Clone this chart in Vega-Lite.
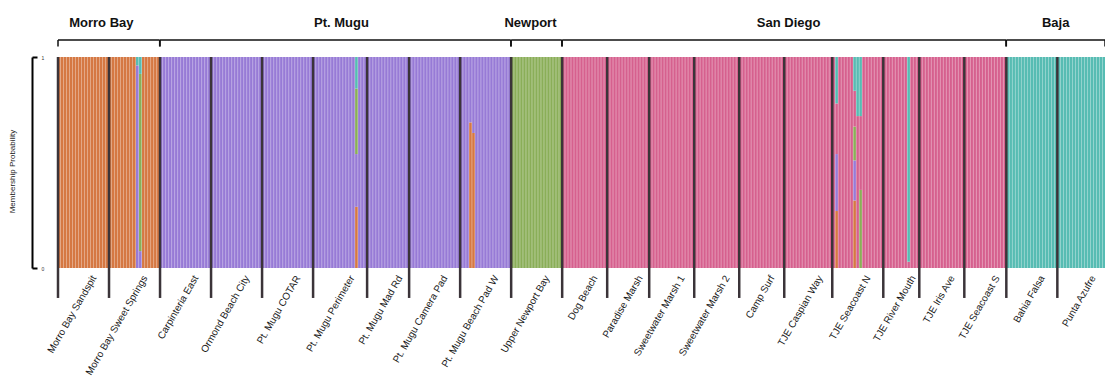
{
"$schema":"https://vega.github.io/schema/vega-lite/v6.json",
"width":1047,"height":211,
"autosize":{"type":"none"},
"padding":{"left":58,"top":57,"right":0,"bottom":115},
"background":"white",
"config":{"view":{"stroke":null}},
"datasets":{
"q":[
{"i":1,"k":1,"q":1},{"i":2,"k":1,"q":1},{"i":3,"k":1,"q":1},{"i":4,"k":1,"q":1},{"i":5,"k":1,"q":1},{"i":6,"k":1,"q":1},{"i":7,"k":1,"q":1},{"i":8,"k":1,"q":1},{"i":9,"k":1,"q":1},{"i":10,"k":1,"q":1},
{"i":11,"k":1,"q":1},{"i":12,"k":1,"q":1},{"i":13,"k":1,"q":1},{"i":14,"k":1,"q":1},{"i":15,"k":1,"q":1},{"i":16,"k":1,"q":1},{"i":17,"k":1,"q":1},{"i":18,"k":1,"q":1},{"i":19,"k":1,"q":1},{"i":20,"k":1,"q":1},
{"i":21,"k":1,"q":1},{"i":22,"k":1,"q":1},{"i":23,"k":1,"q":1},{"i":24,"k":1,"q":1},{"i":25,"k":1,"q":1},{"i":26,"k":1,"q":1},
{"i":27,"k":2,"q":0.96},{"i":27,"k":5,"q":0.04},
{"i":28,"k":2,"q":0.08},{"i":28,"k":3,"q":0.84},{"i":28,"k":5,"q":0.08},
{"i":29,"k":1,"q":1},{"i":30,"k":1,"q":1},{"i":31,"k":1,"q":1},{"i":32,"k":1,"q":1},{"i":33,"k":1,"q":1},{"i":34,"k":1,"q":1},
{"i":35,"k":2,"q":1},{"i":36,"k":2,"q":1},{"i":37,"k":2,"q":1},{"i":38,"k":2,"q":1},{"i":39,"k":2,"q":1},{"i":40,"k":2,"q":1},
{"i":41,"k":2,"q":1},{"i":42,"k":2,"q":1},{"i":43,"k":2,"q":1},{"i":44,"k":2,"q":1},{"i":45,"k":2,"q":1},{"i":46,"k":2,"q":1},{"i":47,"k":2,"q":1},{"i":48,"k":2,"q":1},{"i":49,"k":2,"q":1},{"i":50,"k":2,"q":1},
{"i":51,"k":2,"q":1},{"i":52,"k":2,"q":1},{"i":53,"k":2,"q":1},{"i":54,"k":2,"q":1},{"i":55,"k":2,"q":1},{"i":56,"k":2,"q":1},{"i":57,"k":2,"q":1},{"i":58,"k":2,"q":1},{"i":59,"k":2,"q":1},{"i":60,"k":2,"q":1},
{"i":61,"k":2,"q":1},{"i":62,"k":2,"q":1},{"i":63,"k":2,"q":1},{"i":64,"k":2,"q":1},{"i":65,"k":2,"q":1},{"i":66,"k":2,"q":1},{"i":67,"k":2,"q":1},{"i":68,"k":2,"q":1},{"i":69,"k":2,"q":1},{"i":70,"k":2,"q":1},
{"i":71,"k":2,"q":1},{"i":72,"k":2,"q":1},{"i":73,"k":2,"q":1},{"i":74,"k":2,"q":1},{"i":75,"k":2,"q":1},{"i":76,"k":2,"q":1},{"i":77,"k":2,"q":1},{"i":78,"k":2,"q":1},{"i":79,"k":2,"q":1},{"i":80,"k":2,"q":1},
{"i":81,"k":2,"q":1},{"i":82,"k":2,"q":1},{"i":83,"k":2,"q":1},{"i":84,"k":2,"q":1},{"i":85,"k":2,"q":1},{"i":86,"k":2,"q":1},{"i":87,"k":2,"q":1},{"i":88,"k":2,"q":1},{"i":89,"k":2,"q":1},{"i":90,"k":2,"q":1},
{"i":91,"k":2,"q":1},{"i":92,"k":2,"q":1},{"i":93,"k":2,"q":1},{"i":94,"k":2,"q":1},{"i":95,"k":2,"q":1},{"i":96,"k":2,"q":1},{"i":97,"k":2,"q":1},{"i":98,"k":2,"q":1},{"i":99,"k":2,"q":1},
{"i":100,"k":1,"q":0.29},{"i":100,"k":2,"q":0.25},{"i":100,"k":3,"q":0.31},{"i":100,"k":5,"q":0.15},
{"i":101,"k":2,"q":1},{"i":102,"k":2,"q":1},{"i":103,"k":2,"q":1},{"i":104,"k":2,"q":1},{"i":105,"k":2,"q":1},{"i":106,"k":2,"q":1},{"i":107,"k":2,"q":1},{"i":108,"k":2,"q":1},{"i":109,"k":2,"q":1},{"i":110,"k":2,"q":1},
{"i":111,"k":2,"q":1},{"i":112,"k":2,"q":1},{"i":113,"k":2,"q":1},{"i":114,"k":2,"q":1},{"i":115,"k":2,"q":1},{"i":116,"k":2,"q":1},{"i":117,"k":2,"q":1},{"i":118,"k":2,"q":1},{"i":119,"k":2,"q":1},{"i":120,"k":2,"q":1},
{"i":121,"k":2,"q":1},{"i":122,"k":2,"q":1},{"i":123,"k":2,"q":1},{"i":124,"k":2,"q":1},{"i":125,"k":2,"q":1},{"i":126,"k":2,"q":1},{"i":127,"k":2,"q":1},{"i":128,"k":2,"q":1},{"i":129,"k":2,"q":1},{"i":130,"k":2,"q":1},
{"i":131,"k":2,"q":1},{"i":132,"k":2,"q":1},{"i":133,"k":2,"q":1},{"i":134,"k":2,"q":1},{"i":135,"k":2,"q":1},{"i":136,"k":2,"q":1},{"i":137,"k":2,"q":1},
{"i":138,"k":1,"q":0.69},{"i":138,"k":2,"q":0.31},
{"i":139,"k":1,"q":0.64},{"i":139,"k":2,"q":0.36},
{"i":140,"k":2,"q":1},{"i":141,"k":2,"q":1},{"i":142,"k":2,"q":1},{"i":143,"k":2,"q":1},{"i":144,"k":2,"q":1},{"i":145,"k":2,"q":1},{"i":146,"k":2,"q":1},{"i":147,"k":2,"q":1},{"i":148,"k":2,"q":1},{"i":149,"k":2,"q":1},{"i":150,"k":2,"q":1},{"i":151,"k":2,"q":1},
{"i":152,"k":3,"q":1},{"i":153,"k":3,"q":1},{"i":154,"k":3,"q":1},{"i":155,"k":3,"q":1},{"i":156,"k":3,"q":1},{"i":157,"k":3,"q":1},{"i":158,"k":3,"q":1},{"i":159,"k":3,"q":1},{"i":160,"k":3,"q":1},
{"i":161,"k":3,"q":1},{"i":162,"k":3,"q":1},{"i":163,"k":3,"q":1},{"i":164,"k":3,"q":1},{"i":165,"k":3,"q":1},{"i":166,"k":3,"q":1},{"i":167,"k":3,"q":1},{"i":168,"k":3,"q":1},
{"i":169,"k":4,"q":1},{"i":170,"k":4,"q":1},
{"i":171,"k":4,"q":1},{"i":172,"k":4,"q":1},{"i":173,"k":4,"q":1},{"i":174,"k":4,"q":1},{"i":175,"k":4,"q":1},{"i":176,"k":4,"q":1},{"i":177,"k":4,"q":1},{"i":178,"k":4,"q":1},{"i":179,"k":4,"q":1},{"i":180,"k":4,"q":1},
{"i":181,"k":4,"q":1},{"i":182,"k":4,"q":1},{"i":183,"k":4,"q":1},{"i":184,"k":4,"q":1},{"i":185,"k":4,"q":1},{"i":186,"k":4,"q":1},{"i":187,"k":4,"q":1},{"i":188,"k":4,"q":1},{"i":189,"k":4,"q":1},{"i":190,"k":4,"q":1},
{"i":191,"k":4,"q":1},{"i":192,"k":4,"q":1},{"i":193,"k":4,"q":1},{"i":194,"k":4,"q":1},{"i":195,"k":4,"q":1},{"i":196,"k":4,"q":1},{"i":197,"k":4,"q":1},{"i":198,"k":4,"q":1},{"i":199,"k":4,"q":1},{"i":200,"k":4,"q":1},
{"i":201,"k":4,"q":1},{"i":202,"k":4,"q":1},{"i":203,"k":4,"q":1},{"i":204,"k":4,"q":1},{"i":205,"k":4,"q":1},{"i":206,"k":4,"q":1},{"i":207,"k":4,"q":1},{"i":208,"k":4,"q":1},{"i":209,"k":4,"q":1},{"i":210,"k":4,"q":1},
{"i":211,"k":4,"q":1},{"i":212,"k":4,"q":1},{"i":213,"k":4,"q":1},{"i":214,"k":4,"q":1},{"i":215,"k":4,"q":1},{"i":216,"k":4,"q":1},{"i":217,"k":4,"q":1},{"i":218,"k":4,"q":1},{"i":219,"k":4,"q":1},{"i":220,"k":4,"q":1},
{"i":221,"k":4,"q":1},{"i":222,"k":4,"q":1},{"i":223,"k":4,"q":1},{"i":224,"k":4,"q":1},{"i":225,"k":4,"q":1},{"i":226,"k":4,"q":1},{"i":227,"k":4,"q":1},{"i":228,"k":4,"q":1},{"i":229,"k":4,"q":1},{"i":230,"k":4,"q":1},
{"i":231,"k":4,"q":1},{"i":232,"k":4,"q":1},{"i":233,"k":4,"q":1},{"i":234,"k":4,"q":1},{"i":235,"k":4,"q":1},{"i":236,"k":4,"q":1},{"i":237,"k":4,"q":1},{"i":238,"k":4,"q":1},{"i":239,"k":4,"q":1},{"i":240,"k":4,"q":1},
{"i":241,"k":4,"q":1},{"i":242,"k":4,"q":1},{"i":243,"k":4,"q":1},{"i":244,"k":4,"q":1},{"i":245,"k":4,"q":1},{"i":246,"k":4,"q":1},{"i":247,"k":4,"q":1},{"i":248,"k":4,"q":1},{"i":249,"k":4,"q":1},{"i":250,"k":4,"q":1},
{"i":251,"k":4,"q":1},{"i":252,"k":4,"q":1},{"i":253,"k":4,"q":1},{"i":254,"k":4,"q":1},{"i":255,"k":4,"q":1},{"i":256,"k":4,"q":1},{"i":257,"k":4,"q":1},{"i":258,"k":4,"q":1},{"i":259,"k":4,"q":1},
{"i":260,"k":1,"q":0.27},{"i":260,"k":2,"q":0.27},{"i":260,"k":4,"q":0.24},{"i":260,"k":5,"q":0.22},
{"i":261,"k":4,"q":1},{"i":262,"k":4,"q":1},{"i":263,"k":4,"q":1},{"i":264,"k":4,"q":1},{"i":265,"k":4,"q":1},
{"i":266,"k":1,"q":0.32},{"i":266,"k":2,"q":0.19},{"i":266,"k":3,"q":0.16},{"i":266,"k":4,"q":0.17},{"i":266,"k":5,"q":0.16},
{"i":267,"k":4,"q":0.72},{"i":267,"k":5,"q":0.28},
{"i":268,"k":3,"q":0.37},{"i":268,"k":4,"q":0.35},{"i":268,"k":5,"q":0.28},
{"i":269,"k":4,"q":1},{"i":270,"k":4,"q":1},
{"i":271,"k":4,"q":1},{"i":272,"k":4,"q":1},{"i":273,"k":4,"q":1},{"i":274,"k":4,"q":1},{"i":275,"k":4,"q":1},{"i":276,"k":4,"q":1},{"i":277,"k":4,"q":1},{"i":278,"k":4,"q":1},{"i":279,"k":4,"q":1},{"i":280,"k":4,"q":1},
{"i":281,"k":4,"q":1},{"i":282,"k":4,"q":1},{"i":283,"k":4,"q":1},
{"i":284,"k":4,"q":0.03},{"i":284,"k":5,"q":0.97},
{"i":285,"k":4,"q":1},{"i":286,"k":4,"q":1},{"i":287,"k":4,"q":1},{"i":288,"k":4,"q":1},{"i":289,"k":4,"q":1},{"i":290,"k":4,"q":1},
{"i":291,"k":4,"q":1},{"i":292,"k":4,"q":1},{"i":293,"k":4,"q":1},{"i":294,"k":4,"q":1},{"i":295,"k":4,"q":1},{"i":296,"k":4,"q":1},{"i":297,"k":4,"q":1},{"i":298,"k":4,"q":1},{"i":299,"k":4,"q":1},{"i":300,"k":4,"q":1},
{"i":301,"k":4,"q":1},{"i":302,"k":4,"q":1},{"i":303,"k":4,"q":1},{"i":304,"k":4,"q":1},{"i":305,"k":4,"q":1},{"i":306,"k":4,"q":1},{"i":307,"k":4,"q":1},{"i":308,"k":4,"q":1},{"i":309,"k":4,"q":1},{"i":310,"k":4,"q":1},
{"i":311,"k":4,"q":1},{"i":312,"k":4,"q":1},{"i":313,"k":4,"q":1},{"i":314,"k":4,"q":1},{"i":315,"k":4,"q":1},{"i":316,"k":4,"q":1},
{"i":317,"k":5,"q":1},{"i":318,"k":5,"q":1},{"i":319,"k":5,"q":1},{"i":320,"k":5,"q":1},
{"i":321,"k":5,"q":1},{"i":322,"k":5,"q":1},{"i":323,"k":5,"q":1},{"i":324,"k":5,"q":1},{"i":325,"k":5,"q":1},{"i":326,"k":5,"q":1},{"i":327,"k":5,"q":1},{"i":328,"k":5,"q":1},{"i":329,"k":5,"q":1},{"i":330,"k":5,"q":1},
{"i":331,"k":5,"q":1},{"i":332,"k":5,"q":1},{"i":333,"k":5,"q":1},{"i":334,"k":5,"q":1},{"i":335,"k":5,"q":1},{"i":336,"k":5,"q":1},{"i":337,"k":5,"q":1},{"i":338,"k":5,"q":1},{"i":339,"k":5,"q":1},{"i":340,"k":5,"q":1},
{"i":341,"k":5,"q":1},{"i":342,"k":5,"q":1},{"i":343,"k":5,"q":1},{"i":344,"k":5,"q":1},{"i":345,"k":5,"q":1},{"i":346,"k":5,"q":1},{"i":347,"k":5,"q":1},{"i":348,"k":5,"q":1},{"i":349,"k":5,"q":1}
],
"pops":[
{"pop":"Morro Bay Sandspit","first":1,"mid":9},
{"pop":"Morro Bay Sweet Springs","first":18,"mid":26},
{"pop":"Carpinteria East","first":35,"mid":43},
{"pop":"Ormond Beach City","first":52,"mid":60},
{"pop":"Pt. Mugu COTAR","first":69,"mid":77},
{"pop":"Pt. Mugu Perimeter","first":86,"mid":95},
{"pop":"Pt. Mugu Mad Rd","first":104,"mid":111},
{"pop":"Pt. Mugu Camera Pad","first":118,"mid":126},
{"pop":"Pt. Mugu Beach Pad W","first":135,"mid":143},
{"pop":"Upper Newport Bay","first":152,"mid":160},
{"pop":"Dog Beach","first":169,"mid":176},
{"pop":"Paradise Marsh","first":184,"mid":191},
{"pop":"Sweetwater Marsh 1","first":198,"mid":205},
{"pop":"Sweetwater Marsh 2","first":213,"mid":220},
{"pop":"Camp Surf","first":228,"mid":235},
{"pop":"TJE Caspian Way","first":243,"mid":251},
{"pop":"TJE Seacoast N","first":259,"mid":267},
{"pop":"TJE River Mouth","first":276,"mid":282},
{"pop":"TJE Iris Ave","first":288,"mid":295},
{"pop":"TJE Seacoast S","first":303,"mid":310},
{"pop":"Bahia Falsa","first":317,"mid":325},
{"pop":"Punta Azufre","first":334,"mid":342}
],
"regions":[
{"region":"Morro Bay","first":1,"last":34,"mid":15},
{"region":"Pt. Mugu","first":35,"last":151,"mid":95},
{"region":"Newport","first":152,"last":168,"mid":158},
{"region":"San Diego","first":169,"last":316,"mid":244},
{"region":"Baja","first":317,"last":349,"mid":333}
]
},
"layer":[
{
"data":{"name":"q"},
"mark":{"type":"bar"},
"encoding":{
"x":{"field":"i","type":"ordinal","scale":{"paddingInner":0.12,"paddingOuter":0},"axis":null},
"y":{"field":"q","type":"quantitative","stack":"zero","scale":{"domain":[0,1]},
"axis":{"values":[0,1],"format":"d","offset":26,"grid":false,"domainColor":"#000","domainWidth":2,"tickColor":"#000","tickWidth":2,"tickSize":-5,"labelPadding":-4,"labelAlign":"left","labelBaseline":"middle","labelFlush":false,"labelFontSize":5,"labelColor":"#333","labelFont":"Liberation Sans","title":"Membership Probability","titleFont":"Liberation Sans","titleFontSize":8,"titleFontWeight":"normal","titleColor":"#222","titleAngle":-90,"titleX":-20,"titleY":114,"titleAlign":"center","titleBaseline":"middle"}},
"color":{"field":"k","type":"nominal","scale":{"domain":[1,2,3,4,5],"range":["#D57843","#977AD6","#8AAE58","#D6608E","#57BCB3"]},"legend":null},
"order":{"field":"k","type":"quantitative"}
}
},
{
"data":{"name":"pops"},
"mark":{"type":"rule","color":"#3b3439","strokeWidth":2.5},
"encoding":{
"x":{"field":"first","type":"ordinal","bandPosition":0},
"y":{"datum":1,"type":"quantitative","scale":{"domain":[0,1]}},
"y2":{"datum":-0.142}
}
},
{
"data":{"name":"pops"},
"mark":{"type":"text","angle":300,"align":"right","baseline":"middle","fontSize":10,"font":"Liberation Sans","color":"#1a1a1a","dx":6,"dy":9},
"encoding":{
"x":{"field":"mid","type":"ordinal"},
"y":{"datum":-0.043,"type":"quantitative","scale":{"domain":[0,1]}},
"text":{"field":"pop"}
}
},
{
"data":{"name":"regions"},
"mark":{"type":"rule","color":"#111","strokeWidth":1.5},
"encoding":{
"x":{"field":"first","type":"ordinal","bandPosition":0},
"x2":{"field":"last","bandPosition":1},
"y":{"datum":1.081,"type":"quantitative","scale":{"domain":[0,1]}}
}
},
{
"data":{"name":"regions"},
"mark":{"type":"rule","color":"#111","strokeWidth":1.5},
"encoding":{
"x":{"field":"first","type":"ordinal","bandPosition":0},
"y":{"datum":1.081,"type":"quantitative","scale":{"domain":[0,1]}},
"y2":{"datum":1.05}
}
},
{
"data":{"name":"regions"},
"mark":{"type":"rule","color":"#111","strokeWidth":1.5},
"encoding":{
"x":{"field":"last","type":"ordinal","bandPosition":1},
"y":{"datum":1.081,"type":"quantitative","scale":{"domain":[0,1]}},
"y2":{"datum":1.05}
}
},
{
"data":{"name":"regions"},
"mark":{"type":"text","align":"center","baseline":"alphabetic","fontSize":13,"fontWeight":"bold","font":"Liberation Sans","color":"#111"},
"encoding":{
"x":{"field":"mid","type":"ordinal"},
"y":{"datum":1.142,"type":"quantitative","scale":{"domain":[0,1]}},
"text":{"field":"region"}
}
}
]
}
